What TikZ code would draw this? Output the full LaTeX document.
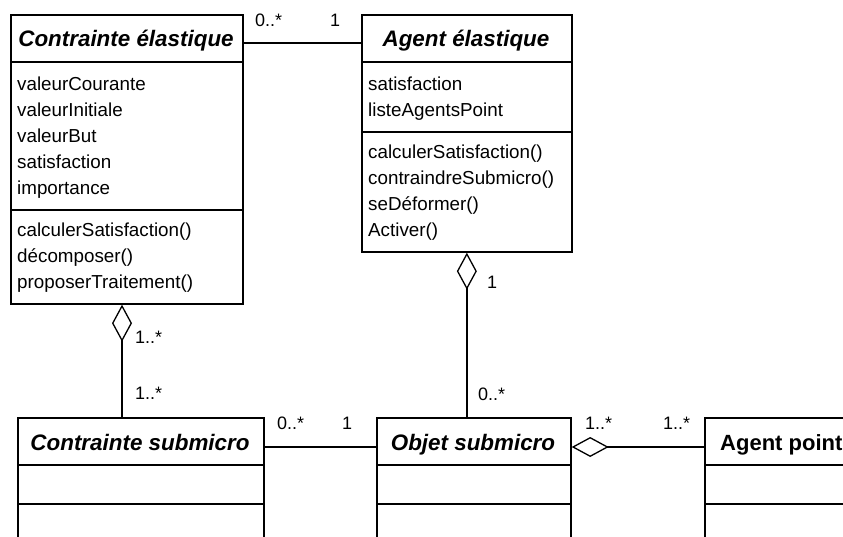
\documentclass[tikz,border=0pt]{standalone}
\usepackage{fontspec}
\setmainfont{Liberation Sans}
\usetikzlibrary{arrows.meta}
\begin{document}
\begin{tikzpicture}[x=1pt,y=-1pt,
  classbox/.style={draw,line width=1.7pt,rectangle,inner sep=0pt,anchor=north west},
  sep/.style={line width=1.1pt},
  conn/.style={line width=1.3pt},
  agg/.style={conn,-{Diamond[open,length=37pt,width=20pt,line width=1.3pt]}},
  ttl/.style={font=\fontsize{22.4}{26}\selectfont\bfseries\itshape,anchor=base,inner sep=0pt},
  ttlp/.style={font=\fontsize{22}{26}\selectfont\bfseries,anchor=base west,inner sep=0pt},
  txt/.style={font=\fontsize{18.8}{26}\selectfont,anchor=base west,inner sep=0pt},
  mult/.style={font=\fontsize{18}{22}\selectfont,anchor=base west,inner sep=0pt}]
\useasboundingbox (0,0) rectangle (843,537);
\clip (0,0) rectangle (843,537);
% ---- Contrainte elastique
\node[classbox,minimum width=232pt,minimum height=289pt] (ce) at (10,14) {};
\node[ttl] (cet) at (126,47) {Contrainte élastique};
\draw[sep] (ce.west |- 0,62) -- (ce.east |- 0,62);
\draw[sep] (ce.west |- 0,210) -- (ce.east |- 0,210);
\node[txt] (ce1) at (17,91) {valeurCourante};
\node[txt] (ce2) at (17,117) {valeurInitiale};
\node[txt] (ce3) at (17,143) {valeurBut};
\node[txt] (ce4) at (17,169) {satisfaction};
\node[txt] (ce5) at (17,195) {importance};
\node[txt] (ce6) at (17,237) {calculerSatisfaction()};
\node[txt] (ce7) at (17,263) {décomposer()};
\node[txt] (ce8) at (17,289) {proposerTraitement()};
% ---- Agent elastique
\node[classbox,minimum width=210pt,minimum height=237pt] (ae) at (361,14) {};
\node[ttl] (aet) at (466,47) {Agent élastique};
\draw[sep] (ae.west |- 0,62) -- (ae.east |- 0,62);
\draw[sep] (ae.west |- 0,132) -- (ae.east |- 0,132);
\node[txt] (ae1) at (368,91) {satisfaction};
\node[txt] (ae2) at (368,117) {listeAgentsPoint};
\node[txt] (ae3) at (368,159) {calculerSatisfaction()};
\node[txt] (ae4) at (368,185) {contraindreSubmicro()};
\node[txt] (ae5) at (368,211) {seDéformer()};
\node[txt] (ae6) at (368,237) {Activer()};
% ---- Contrainte submicro
\node[classbox,minimum width=246pt,minimum height=150pt] (cs) at (17,417) {};
\node[ttl] (cst) at (140,450) {Contrainte submicro};
\draw[sep] (cs.west |- 0,465) -- (cs.east |- 0,465);
\draw[sep] (cs.west |- 0,504) -- (cs.east |- 0,504);
% ---- Objet submicro
\node[classbox,minimum width=194pt,minimum height=150pt] (os) at (376,417) {};
\node[ttl] (ost) at (473,450) {Objet submicro};
\draw[sep] (os.west |- 0,465) -- (os.east |- 0,465);
\draw[sep] (os.west |- 0,504) -- (os.east |- 0,504);
% ---- Agent point
\node[classbox,minimum width=160pt,minimum height=150pt] (ap) at (704,417) {};
\node[ttlp] (apt) at (720,450) {Agent point};
\draw[sep] (ap.west |- 0,465) -- (ap.east |- 0,465);
\draw[sep] (ap.west |- 0,504) -- (ap.east |- 0,504);
% ---- connectors
\coordinate (lx) at (122,0);
\draw[conn] (ce.east |- 0,43) -- (ae.west |- 0,43);
\draw[agg] (cs.north -| lx) -- (ce.south -| lx);
\draw[agg] (ae.south |- os.north) -- (ae.south);
\draw[conn] (cs.east |- 0,447) -- (os.west |- 0,447);
\draw[agg] (ap.west |- 0,447) -- (os.east |- 0,447);
% ---- multiplicities
\node[mult] (m1) at (255,27) {0..*};
\node[mult] (m2) at (330,27) {1};
\node[mult] (m3) at (135,343) {1..*};
\node[mult] (m4) at (135,399) {1..*};
\node[mult] (m5) at (487,289) {1};
\node[mult] (m6) at (478,400) {0..*};
\node[mult] (m7) at (277,429) {0..*};
\node[mult] (m8) at (342,429) {1};
\node[mult] (m9) at (585,429) {1..*};
\node[mult] (m10) at (663,429) {1..*};
\end{tikzpicture}
\end{document}
